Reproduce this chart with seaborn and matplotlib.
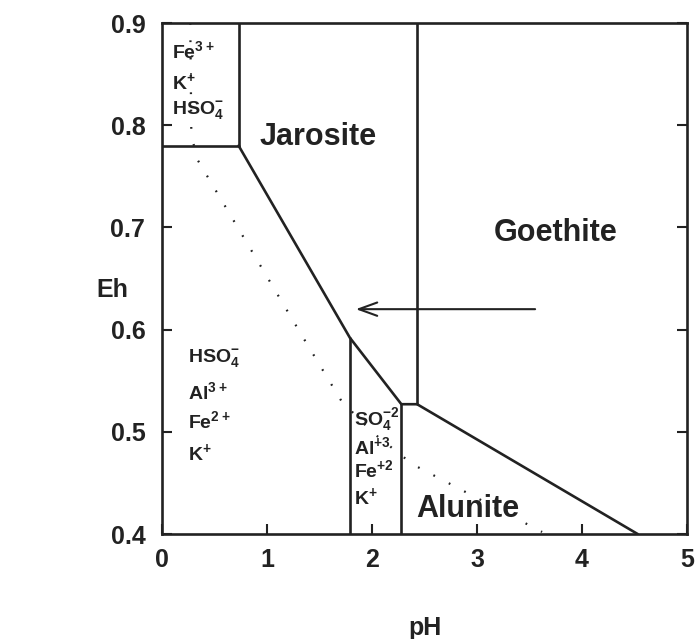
import numpy as np
import pandas as pd
import matplotlib
matplotlib.use('Agg')
import matplotlib.pyplot as plt
import seaborn as sns

# boundary lines of the Eh-pH diagram (pH, Eh)
fe_jar_ph = [0.73, 0.73]
fe_jar_eh = [0.90, 0.78]
fe_top_ph = [0.0, 0.73]
fe_top_eh = [0.78, 0.78]
jar_low_ph = [0.73, 1.79, 2.28, 2.43, 4.53]
jar_low_eh = [0.78, 0.592, 0.527, 0.527, 0.40]
v1_ph = [1.79, 1.79]
v1_eh = [0.40, 0.592]
v2_ph = [2.28, 2.28]
v2_eh = [0.40, 0.527]
goe_ph = [2.43, 2.43]
goe_eh = [0.527, 0.90]

# dotted boundary
dot_ph = [0.27, 0.28, 0.34, 1.34, 1.71, 2.01, 2.39, 3.62]
dot_eh = [0.90, 0.79, 0.766, 0.593, 0.530, 0.499, 0.468, 0.402]

# arrow (tail, head)
arrow_ph = [3.58, 1.82]
arrow_eh = 0.62

x_ticks = [0, 1, 2, 3, 4, 5]
y_ticks = [0.4, 0.5, 0.6, 0.7, 0.8, 0.9]

segs = [(fe_jar_ph, fe_jar_eh), (fe_top_ph, fe_top_eh), (jar_low_ph, jar_low_eh),
        (v1_ph, v1_eh), (v2_ph, v2_eh), (goe_ph, goe_eh)]
rows = []
for i, (xs, ys) in enumerate(segs):
    for x, y in zip(xs, ys):
        rows.append({'pH': x, 'Eh': y, 'seg': i})
df = pd.DataFrame(rows)
df_dot = pd.DataFrame({'pH': dot_ph, 'Eh': dot_eh})

sns.set_theme(style='ticks')
plt.rcParams['font.family'] = ['Liberation Sans', 'DejaVu Sans']
plt.rcParams['font.weight'] = 'bold'
plt.rcParams['mathtext.fontset'] = 'custom'
plt.rcParams['mathtext.rm'] = 'Liberation Sans:bold'
plt.rcParams['mathtext.bf'] = 'Liberation Sans:bold'
plt.rcParams['mathtext.default'] = 'bf'

ink = '#222222'
fig = plt.figure(figsize=(6.95, 6.39), dpi=100)
ax = fig.add_axes([0.233, 0.1643, 0.7555, 0.7997])

sns.lineplot(data=df, x='pH', y='Eh', units='seg', estimator=None, sort=False,
             color=ink, linewidth=1.9, ax=ax)
sns.lineplot(data=df_dot, x='pH', y='Eh', estimator=None, sort=False,
             color=ink, linewidth=1.6, linestyle=(0, (0.8, 7)), ax=ax)

ax.annotate('', xy=(arrow_ph[1], arrow_eh), xytext=(arrow_ph[0], arrow_eh),
            arrowprops=dict(arrowstyle='->,head_length=1.1,head_width=0.4',
                            color=ink, lw=1.5))

big = 22
small = 14
ax.text(1.49, 0.788, 'Jarosite', fontsize=big, ha='center', va='center', color=ink)
ax.text(3.75, 0.695, 'Goethite', fontsize=big, ha='center', va='center', color=ink)
ax.text(2.91, 0.424, 'Alunite', fontsize=big, ha='center', va='center', color=ink)

def ions(x, ys, labels):
    for y, s in zip(ys, labels):
        ax.text(x, y, s, fontsize=small, ha='left', va='center', color=ink)

ions(0.10, [0.872, 0.842, 0.815], [r'Fe$^{3+}$', r'K$^{+}$', r'HSO$_{4}^{-}$'])
ions(0.25, [0.572, 0.539, 0.510, 0.479], [r'HSO$_{4}^{-}$', r'Al$^{3+}$', r'Fe$^{2+}$', r'K$^{+}$'])
ions(1.83, [0.512, 0.485, 0.462, 0.436], [r'SO$_{4}^{-2}$', r'Al$^{+3}$', r'Fe$^{+2}$', r'K$^{+}$'])

ax.set_xlim(0, 5)
ax.set_ylim(0.4, 0.9)
ax.set_xticks(x_ticks)
ax.set_yticks(y_ticks)
ax.set_xticklabels([str(t) for t in x_ticks])
ax.set_yticklabels(['%.1f' % t for t in y_ticks])
ax.tick_params(direction='in', length=7, width=1.5, labelsize=18, pad=10,
               colors=ink, right=True)
ax.tick_params(axis='y', pad=12)
for s in ax.spines.values():
    s.set_linewidth(1.9)
    s.set_color(ink)
    s.set_visible(True)

ax.set_xlabel('pH', fontsize=18, fontweight='bold', color=ink)
ax.xaxis.set_label_coords(0.5, -0.16)
ax.set_ylabel('Eh', fontsize=18, fontweight='bold', color=ink, rotation=0, va='center', ha='center')
ax.yaxis.set_label_coords(-0.095, 0.477)

fig.savefig('out.png', dpi=100)
